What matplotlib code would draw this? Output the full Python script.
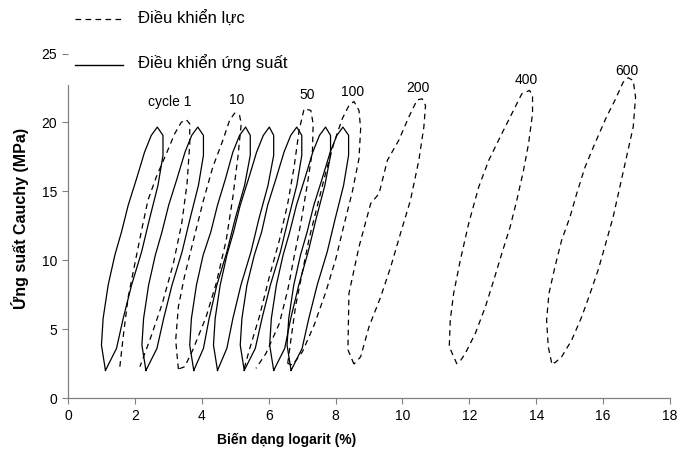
import matplotlib
matplotlib.use("Agg")
import matplotlib.pyplot as plt
from matplotlib import font_manager

plt.rcParams['font.family'] = ['Liberation Sans', 'DejaVu Sans']

# narrow face for the x axis texts, if the system has it
try:
    font_manager.findfont('Liberation Sans Narrow', fallback_to_default=False)
    narrow = ['Liberation Sans Narrow', 'DejaVu Sans']
    xlab_size, xtick_size = 11.5, 11
except ValueError:
    narrow = ['Liberation Sans', 'DejaVu Sans']
    xlab_size, xtick_size = 10, 10

# stress-controlled loops (solid)
solid_y = [2.00, 3.84, 5.77, 8.19, 10.36, 12.05, 13.99, 15.92, 17.85, 19.06, 19.66,
           19.06, 17.61, 15.43, 13.02, 10.60, 8.19, 5.77, 3.60, 2.00]
solid_x1 = [1.12, 1.00, 1.05, 1.20, 1.40, 1.60, 1.80, 2.05, 2.29, 2.49, 2.67,
            2.84, 2.84, 2.69, 2.44, 2.20, 1.90, 1.65, 1.45, 1.12]
solid_x2 = [2.33, 2.21, 2.26, 2.41, 2.61, 2.81, 3.01, 3.26, 3.50, 3.70, 3.88,
            4.05, 4.05, 3.90, 3.65, 3.41, 3.11, 2.86, 2.66, 2.33]
solid_x3 = [3.76, 3.64, 3.69, 3.84, 4.04, 4.27, 4.47, 4.71, 4.93, 5.13, 5.31,
            5.45, 5.45, 5.28, 5.00, 4.75, 4.45, 4.22, 4.05, 3.76]
solid_x4 = [4.47, 4.35, 4.40, 4.55, 4.75, 4.95, 5.15, 5.40, 5.64, 5.84, 6.02,
            6.15, 6.15, 5.98, 5.71, 5.47, 5.17, 4.93, 4.75, 4.47]
solid_x5 = [5.27, 5.15, 5.20, 5.35, 5.57, 5.79, 5.97, 6.22, 6.46, 6.66, 6.84,
            6.99, 6.99, 6.84, 6.59, 6.35, 6.05, 5.80, 5.60, 5.27]
solid_x6 = [6.15, 6.03, 6.08, 6.23, 6.43, 6.63, 6.83, 7.08, 7.32, 7.52, 7.70,
            7.85, 7.85, 7.68, 7.42, 7.18, 6.90, 6.66, 6.48, 6.15]
solid_x7 = [6.67, 6.55, 6.60, 6.75, 6.95, 7.15, 7.35, 7.60, 7.84, 8.04, 8.22,
            8.39, 8.39, 8.24, 7.99, 7.75, 7.45, 7.20, 7.00, 6.67]
solid_loops = [solid_x1, solid_x2, solid_x3, solid_x4, solid_x5, solid_x6, solid_x7]

# force-controlled loops (dashed)
dash1_x = [1.55, 1.65, 1.80, 2.00, 2.20, 2.39, 2.64, 2.94, 3.19, 3.39, 3.54,
           3.64, 3.64, 3.56, 3.40, 3.15, 2.82, 2.48, 2.15]
dash1_y = [2.27, 4.44, 7.34, 9.76, 12.17, 14.35, 16.04, 17.73, 19.18, 20.02, 20.19,
           19.90, 18.46, 15.56, 12.66, 9.76, 6.86, 4.44, 2.27]
dash10_x = [3.30, 3.22, 3.30, 3.48, 3.75, 4.05, 4.33, 4.63, 4.83, 4.98, 5.13,
            5.18, 5.08, 4.93, 4.73, 4.43, 4.13, 3.73, 3.49, 3.30]
dash10_y = [2.10, 4.20, 6.62, 8.79, 11.45, 14.35, 16.76, 18.70, 20.14, 20.67, 20.51,
            19.90, 17.49, 14.59, 11.45, 8.31, 5.89, 3.48, 2.27, 2.10]
dash50_x = [5.27, 5.42, 5.72, 6.02, 6.32, 6.57, 6.76, 6.91, 7.06, 7.26, 7.33,
            7.31, 7.16, 6.96, 6.76, 6.57, 6.32, 5.92, 5.62]
dash50_y = [2.15, 3.48, 5.89, 8.79, 11.45, 14.11, 16.76, 19.42, 20.99, 20.87, 19.90,
            17.97, 15.56, 12.66, 10.24, 7.83, 5.41, 3.24, 2.15]
dash100_x = [6.57, 6.67, 6.81, 7.01, 7.21, 7.46, 7.71, 7.96, 8.20, 8.40, 8.55,
             8.70, 8.75, 8.70, 8.50, 8.25, 8.01, 7.71, 7.36, 7.01, 6.71, 6.57]
dash100_y = [2.51, 4.32, 6.74, 9.16, 11.57, 13.99, 16.40, 18.57, 20.26, 21.23, 21.52,
             20.87, 19.54, 17.37, 14.95, 12.54, 10.12, 7.70, 5.29, 3.36, 2.39, 2.51]
dash200_x = [8.55, 8.37, 8.40, 8.70, 9.05, 9.30, 9.55, 9.89, 10.19, 10.44, 10.59,
             10.69, 10.64, 10.49, 10.24, 9.94, 9.65, 9.35, 9.00, 8.75, 8.55]
dash200_y = [2.46, 3.50, 7.58, 10.96, 14.11, 14.83, 17.25, 18.70, 20.39, 21.64, 21.71,
             21.23, 19.66, 17.25, 14.35, 11.93, 9.52, 7.34, 5.17, 2.99, 2.46]
dash400_x = [11.63, 11.40, 11.43, 11.53, 11.73, 11.98, 12.28, 12.58, 12.97, 13.32, 13.57,
             13.80, 13.89, 13.89, 13.77, 13.62, 13.42, 13.22, 12.97, 12.73, 12.48, 12.18,
             11.88, 11.68]
dash400_y = [2.46, 3.72, 5.65, 7.58, 10.00, 12.66, 15.31, 17.25, 19.18, 20.87, 22.08,
             22.32, 21.96, 20.63, 18.45, 16.52, 14.35, 12.42, 10.48, 8.55, 6.62, 4.69,
             3.24, 2.51]
dash600_x = [14.46, 14.36, 14.31, 14.38, 14.56, 14.76, 15.01, 15.21, 15.46, 15.75, 16.10,
             16.35, 16.60, 16.75, 16.90, 16.97, 16.90, 16.70, 16.50, 16.30, 16.05, 15.85,
             15.61, 15.36, 15.06, 14.76, 14.56, 14.46]
dash600_y = [2.56, 3.72, 5.65, 7.58, 9.52, 11.45, 13.14, 14.83, 16.76, 18.45, 20.39,
             21.59, 22.92, 23.24, 23.04, 21.84, 19.66, 17.49, 15.31, 13.14, 10.97, 9.28,
             7.58, 5.89, 4.20, 2.99, 2.56, 2.56]
dashed_loops = [(dash1_x, dash1_y), (dash10_x, dash10_y), (dash50_x, dash50_y),
                (dash100_x, dash100_y), (dash200_x, dash200_y), (dash400_x, dash400_y),
                (dash600_x, dash600_y)]

cycle_labels = ['cycle 1', '10', '50', '100', '200', '400', '600']
label_x = [3.04, 5.03, 7.16, 8.50, 10.47, 13.70, 16.72]
label_y = [21.45, 21.6, 21.96, 22.2, 22.5, 23.1, 23.7]

fig = plt.figure(figsize=(6.78, 4.54), dpi=100)
ax = fig.add_axes([68/678, 56/454, 602/678, (398-53.5)/454])

for xs in solid_loops:
    ax.plot(xs, solid_y, color='black', lw=0.9)
for xs, ys in dashed_loops:
    ax.plot(xs, ys, color='black', lw=0.9, dashes=(4.5, 3.5))

for t, x, y in zip(cycle_labels, label_x, label_y):
    ax.text(x, y, t, ha='center', va='center', fontsize=10)

ax.set_xlim(0, 18)
ax.set_ylim(0, 25)
ax.set_xticks(range(0, 19, 2))
ax.set_yticks(range(0, 26, 5))
ax.spines['top'].set_visible(False)
ax.spines['right'].set_visible(False)
for s in ['left', 'bottom']:
    ax.spines[s].set_color('#808080')
    ax.spines[s].set_linewidth(0.9)
ax.spines['left'].set_bounds(0, 22.75)
ax.tick_params(direction='out', length=4, color='#808080', labelsize=10, pad=4)
for lab in ax.get_xticklabels():
    lab.set_family(narrow)
    lab.set_fontsize(xtick_size)

fig.text(20/678, 1 - 218/454, 'Ứng suất Cauchy (MPa)', rotation=90, ha='center',
         va='center', fontsize=11.5, fontweight='bold')
fig.text(287/678, 1 - 440/454, 'Biến dạng logarit (%)', ha='center', va='center',
         fontsize=xlab_size, fontweight='bold', family=narrow)

# legend drawn outside the axes, top left
fig.add_artist(plt.Line2D([75/678, 125/678], [1 - 19/454, 1 - 19/454], color='black',
                          lw=0.9, dashes=(4.5, 3.5)))
fig.add_artist(plt.Line2D([75/678, 123/678], [1 - 65/454, 1 - 65/454], color='black', lw=1.0))
fig.text(138/678, 1 - 19/454, 'Điều khiển lực', ha='left', va='center', fontsize=12)
fig.text(138/678, 1 - 63/454, 'Điều khiển ứng suất', ha='left', va='center', fontsize=12)

fig.savefig('out.png', dpi=100)
